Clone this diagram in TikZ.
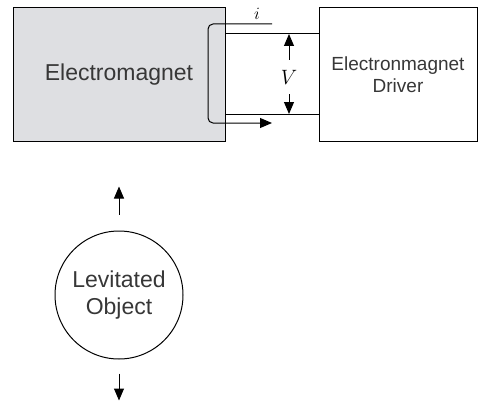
\documentclass[tikz,border=0pt]{standalone}
\usepackage{fontspec}
\setsansfont{Liberation Sans}
\usepackage{tikz}
\usetikzlibrary{arrows.meta, positioning, calc}
\definecolor{coregray}{RGB}{222,223,226}
\definecolor{labelgray}{RGB}{55,55,55}

\begin{document}
\begin{tikzpicture}[x=1pt, y=-1pt, >={Triangle[length=12pt,width=10pt]}, line width=1pt]
  \useasboundingbox (0,0) rectangle (478,401);

  % Blocks
  \node[draw, fill=coregray, minimum width=212pt, minimum height=133pt,
        text=labelgray, font=\sffamily\fontsize{23}{27}\selectfont] (em) at (119,74.5) {Electromagnet};
  \node[draw, minimum width=158pt, minimum height=133pt, align=center,
        text=labelgray, font=\sffamily\fontsize{19}{22}\selectfont] (drv) at (398,74.5) {Electronmagnet\\Driver};
  \node[draw, circle, minimum size=128pt, inner sep=0pt, align=center,
        text=labelgray, font=\sffamily\fontsize{23}{27}\selectfont] (obj) at (119,295) {Levitated\\Object};

  % Wires to the driver
  \coordinate (vtop) at (289,34);
  \coordinate (vbot) at (289,114);
  \draw (em.east |- vtop) -- (drv.west |- vtop);
  \draw (em.east |- vbot) -- (drv.west |- vbot);

  % Coil and current
  \draw[->, rounded corners=5pt] (272,24) -- (208,24) -- (208,123) -- (272,123);
  \node[font=\fontsize{17}{17}\selectfont] (cur) at (257,14) {$i$};

  % Voltage
  \node[font=\fontsize{20}{20}\selectfont, inner sep=0pt, minimum height=33pt] (vlab) at (289,77) {$V$};
  \draw[->] (vlab.north) -- (vtop);
  \draw[->] (vlab.south) -- (vbot);

  % Force arrows
  \draw[->] ($(obj.north)+(0,-16)$) -- ++(0,-28);
  \draw[->] ($(obj.south)+(0,14)$) -- ++(0,27);
\end{tikzpicture}
\end{document}
